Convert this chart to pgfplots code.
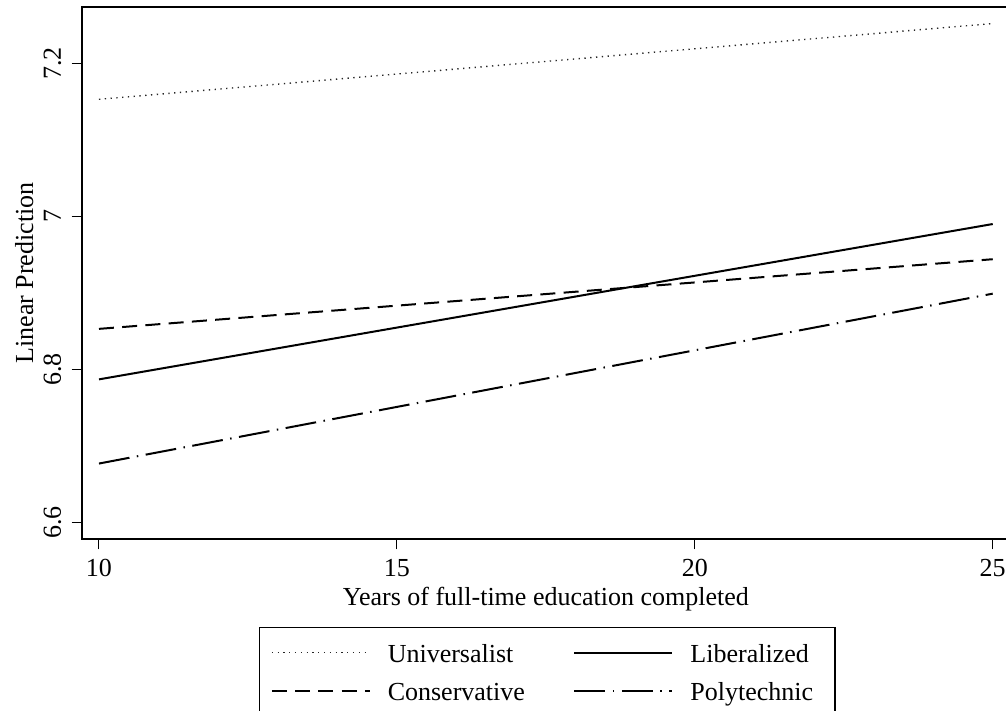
\documentclass[border=0pt]{standalone}
\usepackage{fontspec}
\setmainfont{Liberation Serif}
\usepackage{pgfplots}
\pgfplotsset{compat=1.18}
\begin{document}
\begin{tikzpicture}
\useasboundingbox (0,0) rectangle (1006bp,711bp);
\begin{axis}[
  at={(81.7bp,171.7bp)}, anchor=south west,
  scale only axis, width=928.3bp, height=532.6bp,
  xmin=9.71, xmax=25.29, ymin=6.578, ymax=7.274,
  xtick={10,15,20,25}, xticklabels={10,15,20,25},
  ytick={6.6,6.8,7,7.2}, yticklabels={6.6,6.8,7,7.2},
  font=\fontsize{26bp}{31bp}\selectfont,
  tick align=outside, tick pos=left,
  major tick length=10bp,
  every tick/.style={black, line width=1bp},
  axis line style={line width=1.8bp},
  xticklabel style={anchor=base},
  yticklabel style={rotate=90, anchor=base},
  xticklabel shift=26.7bp,
  yticklabel shift=10.7bp,
  xlabel={Years of full-time education completed},
  ylabel={Linear Prediction},
  every axis x label/.style={at={(axis description cs:0.5,-0.1234)}, anchor=base},
  every axis y label/.style={at={(axis description cs:-0.05246,0.5)}, rotate=90, anchor=base},
  legend columns=2,
  legend image code/.code={\path[draw=none,fill=none] (0bp,0bp) rectangle (116bp,10bp); \draw[#1] (0bp,10bp) -- (98bp,10bp);},
  legend style={at={(0.1907,-0.1642)}, anchor=north west, draw=black, line width=1.6bp,
    inner xsep=11.25bp, inner ysep=15bp, row sep=12bp, column sep=0bp,
    nodes={inner sep=0pt, text height=20bp, text depth=6bp, anchor=base west},
    font=\fontsize{26bp}{31bp}\selectfont},
]
\addplot[black!85, line width=1.4bp, dash pattern=on 1.3bp off 4.5bp] coordinates {(10,7.153) (25,7.252)};
\addlegendentry{\makebox[185.7bp][l]{Universalist}}
\addplot[black, line width=2bp] coordinates {(10,6.787) (25,6.990)};
\addlegendentry{\makebox[133bp][l]{Liberalized}}
\addplot[black, line width=2bp, dash pattern=on 15bp off 8.3bp] coordinates {(10,6.853) (25,6.944)};
\addlegendentry{\makebox[185.7bp][l]{Conservative}}
\addplot[black, line width=2bp, dash pattern=on 31bp off 7.5bp on 1.5bp off 7.5bp] coordinates {(10,6.677) (25,6.899)};
\addlegendentry{\makebox[133bp][l]{Polytechnic}}
\end{axis}
\end{tikzpicture}
\end{document}
